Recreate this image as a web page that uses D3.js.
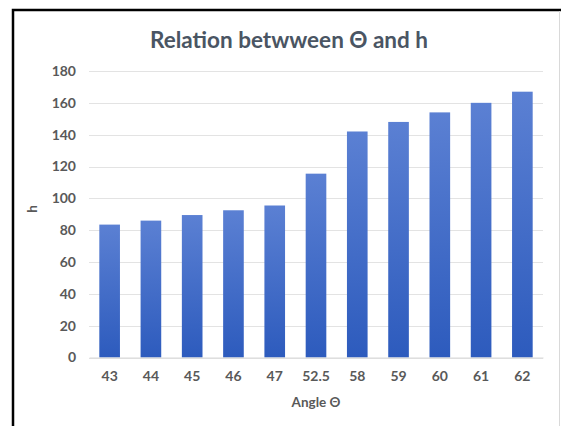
<!DOCTYPE html>
<html>
<head>
<meta charset="utf-8">
<script src="https://cdn.jsdelivr.net/npm/d3@7"></script>
<style>
  body { margin: 0; background: #fff; }
  text { font-family: Lato, "Open Sans", sans-serif; }
</style>
</head>
<body>
<div id="chart"></div>
<script>
var svgWidth = 561;
var svgHeight = 426;

// chart data
var angles = ["43", "44", "45", "46", "47", "52.5", "58", "59", "60", "61", "62"];
var heights = [83.5, 86, 89.5, 92.5, 95.5, 115.5, 142, 148, 154, 160, 167];
var yTicks = [0, 20, 40, 60, 80, 100, 120, 140, 160, 180];

var margin = { top: 71, right: 18, bottom: 68, left: 89 };
var width = svgWidth - margin.left - margin.right;
var height = 357.5 - margin.top;

var svg = d3.select("#chart")
  .append("svg")
  .attr("width", svgWidth)
  .attr("height", svgHeight);

// frame
svg.append("path")
  .attr("d", "M13,426 V10 H561")
  .attr("fill", "none")
  .attr("stroke", "#000")
  .attr("stroke-width", 2.5);
svg.append("line")
  .attr("x1", 559.5).attr("x2", 559.5)
  .attr("y1", 11).attr("y2", 426)
  .attr("stroke", "#d9d9d9");

// gradient for bars
var grad = svg.append("defs").append("linearGradient")
  .attr("id", "barGrad")
  .attr("x1", 0).attr("y1", 0).attr("x2", 0).attr("y2", 1);
grad.append("stop").attr("offset", "0%").attr("stop-color", "#5b80d3");
grad.append("stop").attr("offset", "100%").attr("stop-color", "#2d5bbd");

var chartGroup = svg.append("g")
  .attr("transform", `translate(${margin.left}, ${margin.top})`);

var xScale = d3.scaleBand()
  .domain(angles)
  .range([0, width])
  .paddingInner(0.5)
  .paddingOuter(0.25);

var yScale = d3.scaleLinear()
  .domain([0, 180])
  .range([height, 0]);

// gridlines
chartGroup.append("g")
  .selectAll("line")
  .data(yTicks)
  .enter()
  .append("line")
  .attr("x1", 0)
  .attr("x2", width)
  .attr("y1", d => Math.round(yScale(d)) + 0.5)
  .attr("y2", d => Math.round(yScale(d)) + 0.5)
  .attr("stroke", "#e3e3e3")
  .attr("stroke-width", 1);

// y axis labels
var leftAxis = d3.axisLeft(yScale).tickValues(yTicks).tickSize(0).tickPadding(13);
var yAxis = chartGroup.append("g").call(leftAxis);
yAxis.select(".domain").remove();
yAxis.selectAll("text")
  .attr("fill", "#595959")
  .attr("font-size", "14px")
  .attr("font-weight", "bold")
  .style("font-family", "Lato, sans-serif");

// bars
chartGroup.selectAll("rect")
  .data(heights)
  .enter()
  .append("rect")
  .attr("x", (d, i) => xScale(angles[i]))
  .attr("y", d => yScale(d))
  .attr("width", xScale.bandwidth())
  .attr("height", d => height - yScale(d))
  .attr("fill", "url(#barGrad)");

// x axis
var bottomAxis = d3.axisBottom(xScale).tickSize(0).tickPadding(14);
var xAxis = chartGroup.append("g")
  .attr("transform", `translate(0, ${height})`)
  .call(bottomAxis);
xAxis.select(".domain").attr("stroke", "#d9d9d9");
xAxis.selectAll("text")
  .attr("fill", "#595959")
  .attr("font-size", "14px")
  .attr("font-weight", "bold")
  .style("font-family", "Lato, sans-serif");

// title
svg.append("text")
  .attr("x", 289)
  .attr("y", 48)
  .attr("text-anchor", "middle")
  .attr("fill", "#4a5563")
  .attr("font-size", "22.5px")
  .attr("font-weight", "bold")
  .text("Relation betwween \u0398 and h");

// axis titles
svg.append("text")
  .attr("x", margin.left + width / 2)
  .attr("y", 407)
  .attr("text-anchor", "middle")
  .attr("fill", "#595959")
  .attr("font-size", "13.5px")
  .attr("font-weight", "bold")
  .text("Angle \u0398");

svg.append("text")
  .attr("transform", "translate(37, 209) rotate(-90)")
  .attr("text-anchor", "middle")
  .attr("fill", "#595959")
  .attr("font-size", "13.5px")
  .attr("font-weight", "bold")
  .text("h");
</script>
</body>
</html>
